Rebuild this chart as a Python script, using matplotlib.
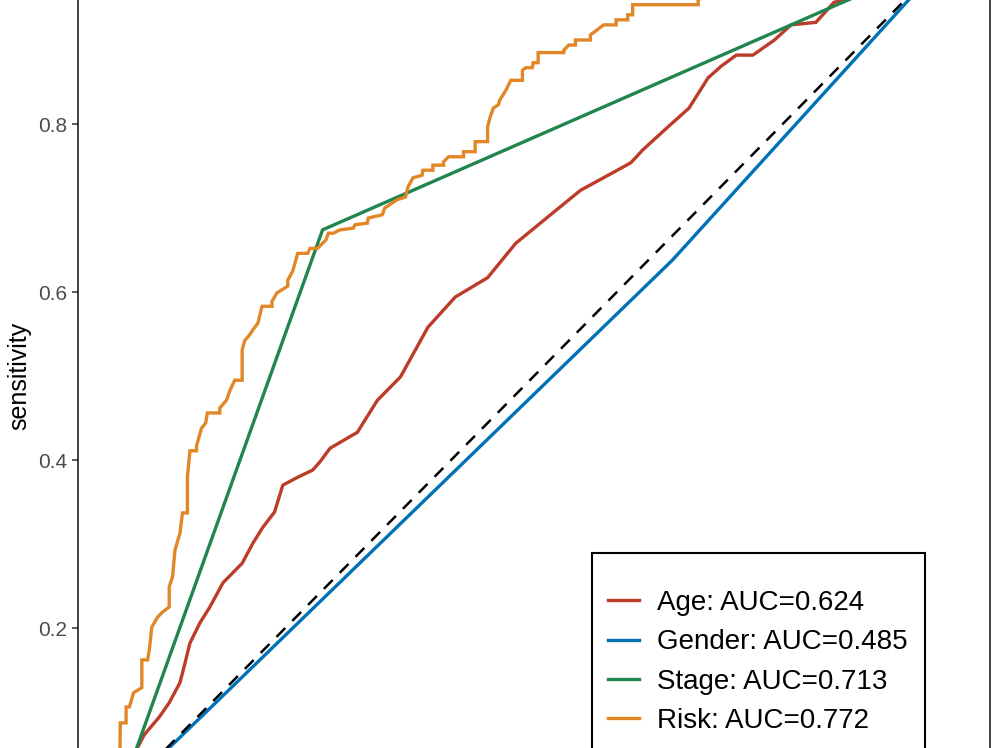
import matplotlib
matplotlib.use("Agg")
import matplotlib.pyplot as plt
from matplotlib.patches import Rectangle

plt.rcParams["font.family"] = ["Liberation Sans", "DejaVu Sans"]

# ROC curves: false positive rate (1 - specificity) and sensitivity
age_fpr = [0.0, 0.012, 0.022, 0.030, 0.048, 0.060, 0.073, 0.079, 0.085, 0.097, 0.109, 0.125,
           0.148, 0.161, 0.173, 0.187, 0.197, 0.214, 0.233, 0.242, 0.254, 0.287, 0.311, 0.339,
           0.372, 0.405, 0.444, 0.478, 0.520, 0.556, 0.595, 0.617, 0.631, 0.661, 0.687, 0.710,
           0.726, 0.744, 0.764, 0.790, 0.810, 0.840, 0.862, 0.879, 0.930, 1.0]
age_tpr = [0.0, 0.030, 0.058, 0.073, 0.094, 0.111, 0.135, 0.158, 0.182, 0.206, 0.225, 0.254,
           0.277, 0.301, 0.320, 0.338, 0.370, 0.379, 0.388, 0.398, 0.414, 0.433, 0.471, 0.499,
           0.558, 0.594, 0.617, 0.658, 0.692, 0.721, 0.742, 0.754, 0.769, 0.796, 0.819, 0.855,
           0.869, 0.882, 0.882, 0.900, 0.918, 0.921, 0.945, 0.948, 0.970, 1.0]

gender_fpr = [0.0, 0.667, 1.0]
gender_tpr = [0.0, 0.638, 1.0]

stage_fpr = [0.0, 0.245, 1.0]
stage_tpr = [0.0, 0.674, 1.0]

risk_fpr = [0.0, 0.001, 0.008, 0.008, 0.012, 0.017, 0.027, 0.027, 0.034, 0.036, 0.039, 0.046,
            0.052, 0.060, 0.060, 0.064, 0.067, 0.073, 0.076, 0.082, 0.082, 0.085, 0.093, 0.093,
            0.099, 0.104, 0.106, 0.121, 0.121, 0.129, 0.133, 0.139, 0.148, 0.148, 0.151, 0.157,
            0.161, 0.167, 0.172, 0.184, 0.184, 0.190, 0.203, 0.203, 0.209, 0.215, 0.227, 0.230,
            0.239, 0.245, 0.249, 0.252, 0.258, 0.266, 0.282, 0.284, 0.299, 0.300, 0.317, 0.320,
            0.326, 0.335, 0.345, 0.348, 0.354, 0.365, 0.366, 0.378, 0.378, 0.391, 0.391, 0.397,
            0.415, 0.415, 0.429, 0.429, 0.444, 0.444, 0.447, 0.451, 0.457, 0.459, 0.466, 0.472,
            0.486, 0.486, 0.490, 0.498, 0.499, 0.505, 0.505, 0.536, 0.536, 0.542, 0.550, 0.550,
            0.568, 0.568, 0.584, 0.599, 0.599, 0.613, 0.613, 0.619, 0.619, 0.698, 0.698, 0.750,
            0.850, 1.0]
risk_tpr = [0.0, 0.087, 0.087, 0.106, 0.106, 0.123, 0.129, 0.162, 0.162, 0.174, 0.201, 0.213,
            0.219, 0.225, 0.249, 0.261, 0.293, 0.313, 0.337, 0.337, 0.380, 0.411, 0.411, 0.417,
            0.438, 0.444, 0.456, 0.456, 0.462, 0.471, 0.482, 0.495, 0.495, 0.531, 0.542, 0.549,
            0.555, 0.563, 0.583, 0.583, 0.589, 0.599, 0.607, 0.614, 0.625, 0.646, 0.646, 0.652,
            0.652, 0.658, 0.662, 0.670, 0.670, 0.674, 0.676, 0.680, 0.682, 0.688, 0.692, 0.700,
            0.704, 0.710, 0.713, 0.725, 0.736, 0.739, 0.745, 0.745, 0.751, 0.751, 0.755, 0.761,
            0.761, 0.767, 0.767, 0.779, 0.779, 0.796, 0.808, 0.819, 0.823, 0.829, 0.840, 0.852,
            0.852, 0.864, 0.867, 0.867, 0.873, 0.873, 0.885, 0.885, 0.888, 0.894, 0.894, 0.900,
            0.900, 0.906, 0.918, 0.918, 0.924, 0.924, 0.930, 0.930, 0.942, 0.942, 0.948, 0.975,
            0.990, 1.0]

labels = ["Age: AUC=0.624", "Gender: AUC=0.485", "Stage: AUC=0.713", "Risk: AUC=0.772"]
colors = ["#BC3C29", "#0072B5", "#20854E", "#E18727"]
y_ticks = [0.2, 0.4, 0.6, 0.8]


def main():
    fig = plt.figure(figsize=(9.98, 7.48), dpi=100)
    # the visible picture is a crop of a taller panel
    ax = fig.add_axes([78 / 998, -90 / 748, 912 / 998, 924 / 748])

    curves = [(age_fpr, age_tpr), (gender_fpr, gender_tpr),
              (stage_fpr, stage_tpr), (risk_fpr, risk_tpr)]
    for (fx, fy), lab, col in zip(curves, labels, colors):
        ax.plot(fx, fy, color=col, lw=2.4, label=lab, solid_joinstyle="miter")
    ax.plot([0, 1], [0, 1], color="black", lw=1.8, linestyle=(0, (5, 4)))

    ax.set_xlim(-0.05, 1.05)
    ax.set_ylim(-0.05, 1.05)
    ax.set_yticks(y_ticks)
    ax.set_yticklabels([f"{v:.1f}" for v in y_ticks])
    ax.set_xticks([0.0, 0.25, 0.5, 0.75, 1.0])
    ax.tick_params(colors="#333333", labelcolor="#4D4D4D", labelsize=15, length=4.5, width=1.1, pad=3)
    ax.tick_params(axis="x", labelbottom=False)
    ax.set_ylabel("sensitivity", fontsize=18, labelpad=5)
    for s in ax.spines.values():
        s.set_color("#222222")
        s.set_linewidth(1.2)

    # legend box (its lower part lies outside the crop)
    box = Rectangle((592 / 998, -30 / 748), 333 / 998, 225 / 748, transform=fig.transFigure,
                    facecolor="white", edgecolor="black", lw=1.5, zorder=4, clip_on=False)
    ax.add_patch(box)
    leg = ax.legend(loc="upper left", bbox_to_anchor=(608 / 998, 1 - 590 / 748),
                    bbox_transform=fig.transFigure, fontsize=20, frameon=False,
                    handlelength=1.1, handletextpad=0.65, labelspacing=0.48,
                    borderpad=0.0, borderaxespad=0)
    leg.set_zorder(6)

    fig.savefig("out.png", dpi=100)
    plt.close(fig)


if __name__ == "__main__":
    main()
